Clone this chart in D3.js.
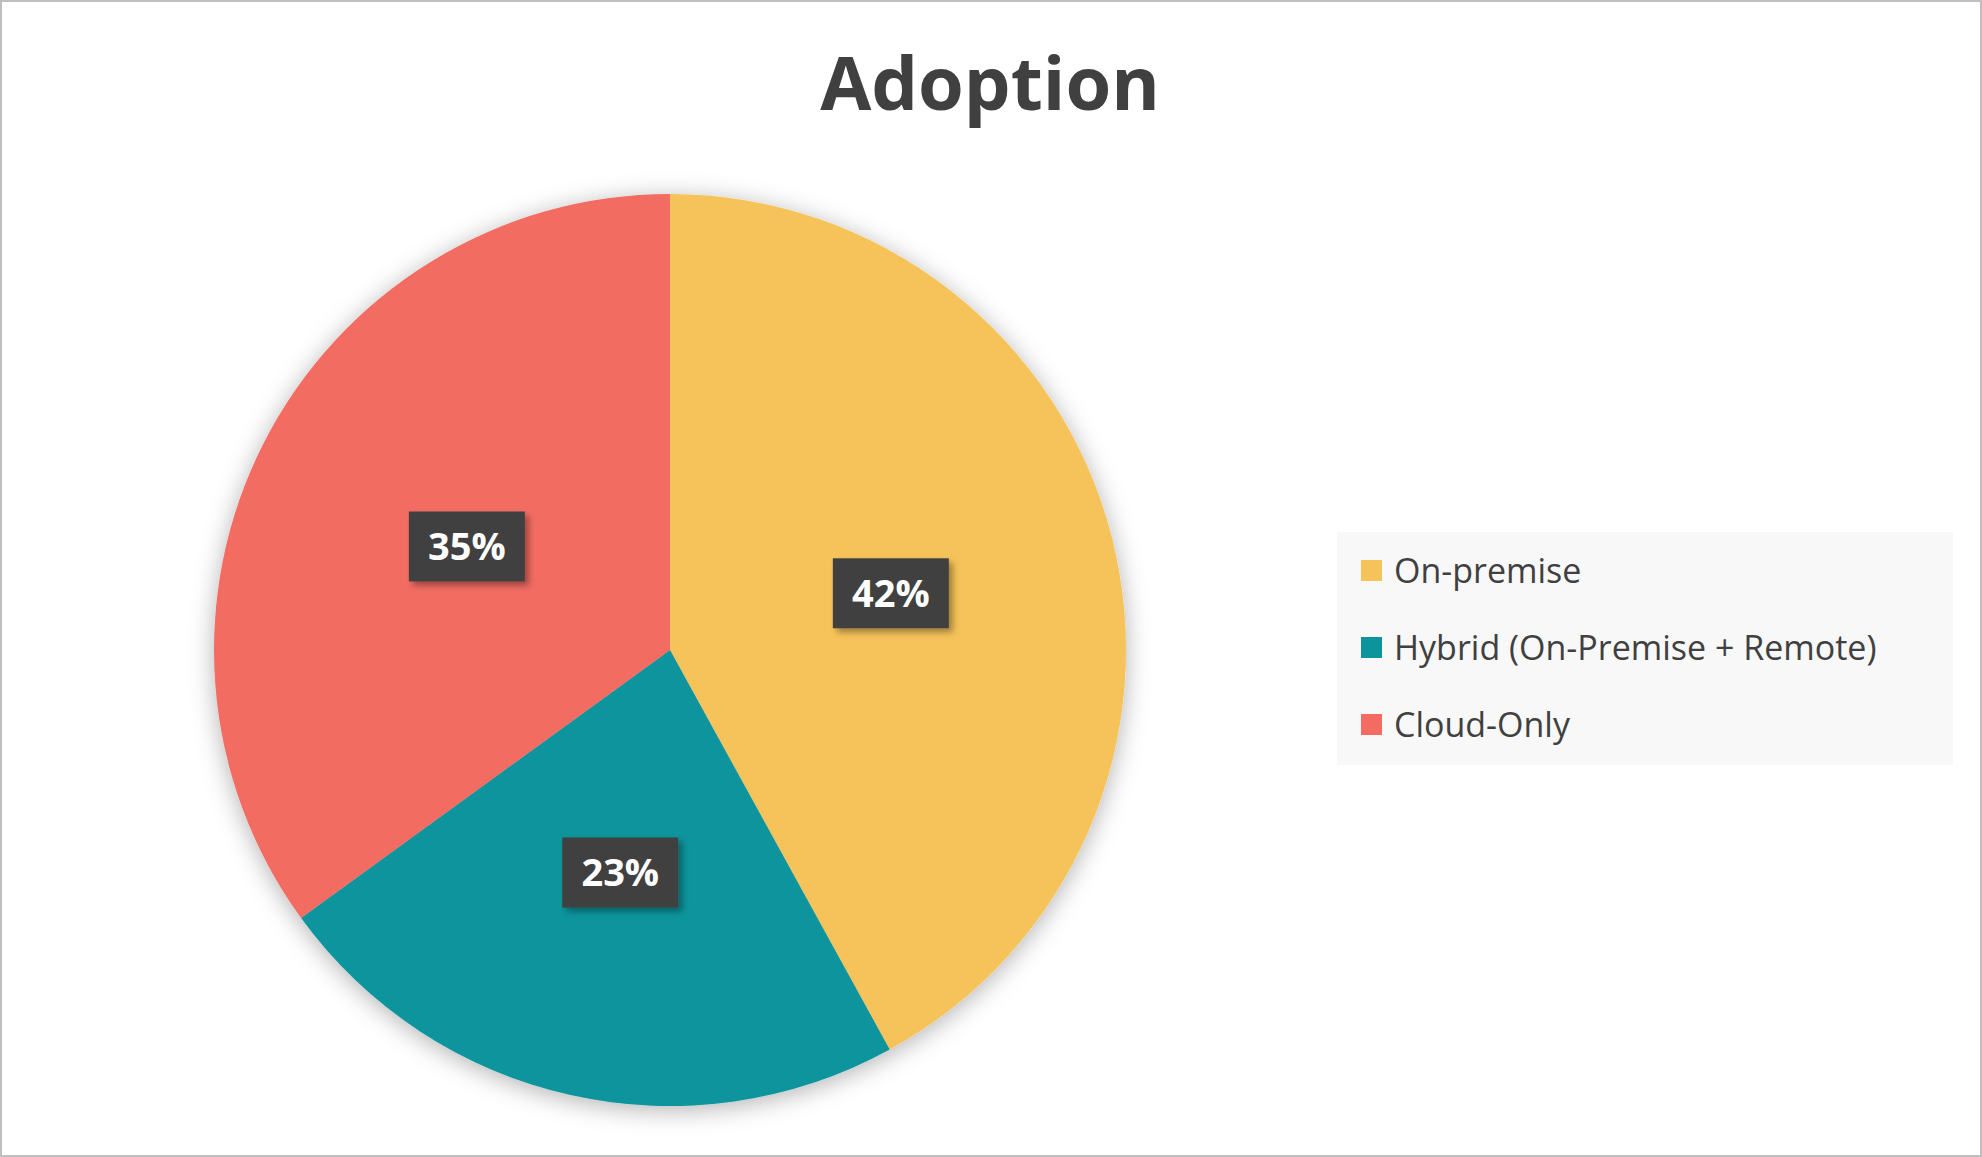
<!DOCTYPE html>
<html><head><meta charset="utf-8">
<script src="https://cdn.jsdelivr.net/npm/d3@7"></script>
<style>body{margin:0;background:#fff}</style>
</head><body>
<script>
var categories = ["On-premise", "Hybrid (On-Premise + Remote)", "Cloud-Only"];
var values = [42, 23, 35];
var colors = ["#F6C35A", "#0C949C", "#F26C62"];

var width = 1982, height = 1157;
var cx = 670, cy = 650, radius = 456;

var svg = d3.select("body").append("svg")
    .attr("width", width).attr("height", height);

svg.append("rect").attr("x", 1).attr("y", 1).attr("width", width - 2).attr("height", height - 2)
    .attr("fill", "#fff").attr("stroke", "#bfbfbf").attr("stroke-width", 2);

var defs = svg.append("defs");
var f = defs.append("filter").attr("id", "shadow").attr("x", "-20%").attr("y", "-20%").attr("width", "140%").attr("height", "140%");
f.append("feDropShadow").attr("dx", 0).attr("dy", 4).attr("stdDeviation", 12).attr("flood-color", "#000").attr("flood-opacity", 0.3);
var f2 = defs.append("filter").attr("id", "lshadow").attr("x", "-30%").attr("y", "-30%").attr("width", "160%").attr("height", "160%");
f2.append("feDropShadow").attr("dx", 4).attr("dy", 4).attr("stdDeviation", 3).attr("flood-color", "#000").attr("flood-opacity", 0.35);

svg.append("text").attr("x", 990).attr("y", 110).attr("text-anchor", "middle")
    .style("font-family", "Open Sans, sans-serif").style("font-weight", "bold")
    .style("font-size", "74px").style("fill", "#404040").text("Adoption");

var pie = d3.pie().sort(null).value(function(d){ return d; });
var arc = d3.arc().innerRadius(0).outerRadius(radius);
var arcs = pie(values);

var g = svg.append("g").attr("transform", "translate(" + cx + "," + cy + ")");
g.append("g").attr("filter", "url(#shadow)").selectAll("path").data(arcs).enter().append("path")
    .attr("d", arc).attr("fill", function(d, i){ return colors[i]; });

var lab = g.selectAll(".lab").data(arcs).enter().append("g")
    .attr("transform", function(d){ var c = arc.centroid(d); return "translate(" + c[0] + "," + c[1] + ")"; });
lab.append("rect").attr("x", -58).attr("y", -35).attr("width", 116).attr("height", 70)
    .attr("fill", "#404040").attr("filter", "url(#lshadow)");
lab.append("text").attr("text-anchor", "middle").attr("dy", "0.35em")
    .style("font-family", "Open Sans, sans-serif").style("font-weight", "bold")
    .style("font-size", "38px").style("fill", "#fff")
    .text(function(d){ return d.value + "%"; });

var leg = svg.append("g");
leg.append("rect").attr("x", 1337).attr("y", 532).attr("width", 616).attr("height", 233).attr("fill", "#f8f8f8");
var items = leg.selectAll(".it").data(categories).enter().append("g")
    .attr("transform", function(d, i){ return "translate(1361," + (571 + i * 77) + ")"; });
items.append("rect").attr("x", 0).attr("y", -11).attr("width", 21).attr("height", 21)
    .attr("fill", function(d, i){ return colors[i]; });
items.append("text").attr("x", 33).attr("dy", "0.35em")
    .style("font-family", "Open Sans, sans-serif").style("font-size", "34px").style("fill", "#404040")
    .text(function(d){ return d; });
</script>
</body></html>
